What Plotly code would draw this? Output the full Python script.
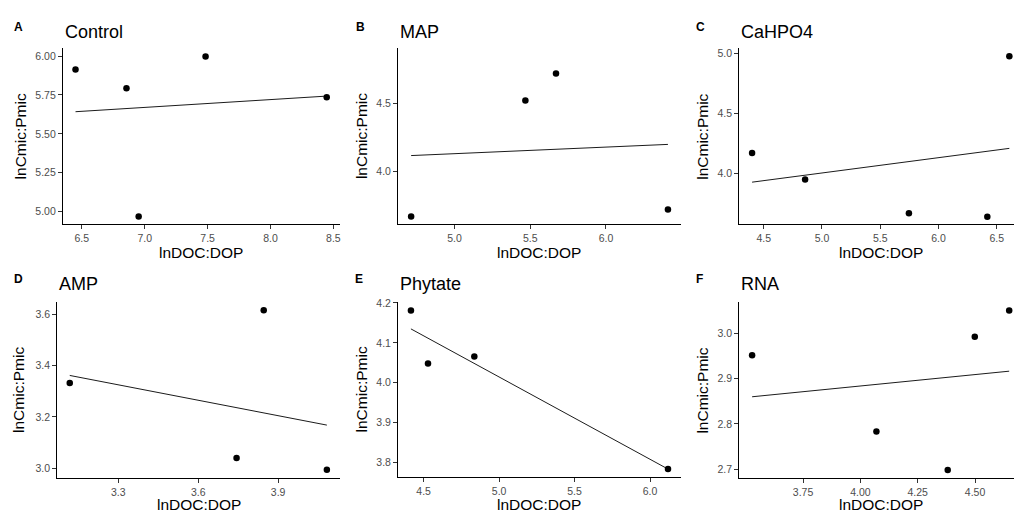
import numpy as np
import plotly.graph_objects as go

# ---------------- data ----------------
panel_titles = ["Control", "MAP", "CaHPO4", "AMP", "Phytate", "RNA"]
panel_tags = ["A", "B", "C", "D", "E", "F"]

control_x = [6.45, 6.855, 6.952, 7.484, 8.447]
control_y = [5.915, 5.794, 4.968, 5.998, 5.735]
map_x = [4.714, 5.468, 5.670, 6.409]
map_y = [3.671, 4.519, 4.717, 3.722]
cahpo4_x = [4.40, 4.855, 5.746, 6.419, 6.608]
cahpo4_y = [4.170, 3.950, 3.669, 3.639, 4.978]
amp_x = [3.118, 3.744, 3.846, 4.083]
amp_y = [3.332, 3.040, 3.615, 2.994]
phytate_x = [4.416, 4.529, 4.836, 6.119]
phytate_y = [4.181, 4.048, 4.066, 3.784]
rna_x = [3.528, 4.070, 4.381, 4.499, 4.649]
rna_y = [2.952, 2.783, 2.698, 2.993, 3.051]

xticks = [
    [6.5, 7.0, 7.5, 8.0, 8.5],
    [5.0, 5.5, 6.0],
    [4.5, 5.0, 5.5, 6.0, 6.5],
    [3.3, 3.6, 3.9],
    [4.5, 5.0, 5.5, 6.0],
    [3.75, 4.00, 4.25, 4.50],
]
yticks = [
    [5.00, 5.25, 5.50, 5.75, 6.00],
    [4.0, 4.5],
    [4.0, 4.5, 5.0],
    [3.0, 3.2, 3.4, 3.6],
    [3.8, 3.9, 4.0, 4.1, 4.2],
    [2.7, 2.8, 2.9, 3.0],
]
xfmt = [".1f", ".1f", ".1f", ".1f", ".1f", ".2f"]
yfmt = [".2f", ".1f", ".1f", ".1f", ".1f", ".1f"]

xs = [control_x, map_x, cahpo4_x, amp_x, phytate_x, rna_x]
ys = [control_y, map_y, cahpo4_y, amp_y, phytate_y, rna_y]

# ---------------- layout (pixels) ----------------
W, H = 1015, 512
# panel pixel boxes: x0, x1, ytop, ybottom
px_x = [(63, 340), (398.5, 681.5), (740, 1015), (57.3, 340), (398.5, 681.5), (740, 1015)]
px_y = [(43, 221), (43, 221), (43, 221), (300, 477.7), (300, 476.7), (300, 477.7)]
xranges = [[6.35, 8.55], [4.628, 6.494], [4.29, 6.648], [3.071, 4.131], [4.331, 6.204], [3.472, 4.670]]
yranges = [[4.9165, 6.0495], [3.613, 4.899], [3.575, 5.042], [2.962, 3.645], [3.764, 4.201], [2.680, 3.069]]
# full (uncropped) x centre for axis title
xtitle_cx = [201.5, 540, 881.5, 198.7, 540, 881.5]
ytitle_cx = [20, 362, 703, 18.7, 362, 703]
tag_x = [12, 354, 695, 12, 353, 695]

FONT = "Liberation Sans, Arial, sans-serif"

fig = go.Figure()
layout = dict(
    width=W, height=H, margin=dict(l=0, r=0, t=0, b=0),
    paper_bgcolor="white", plot_bgcolor="white", showlegend=False,
    font=dict(family=FONT, color="black"),
)
annotations = []

def px2x(p):
    return p / W

def px2y(p):
    return 1 - p / H

for i in range(6):
    n = "" if i == 0 else str(i + 1)
    xa, ya = "x" + n, "y" + n
    x0, x1 = px_x[i]
    yt, yb = px_y[i]
    common = dict(
        showline=True, linecolor="black", linewidth=1.1,
        ticks="outside", ticklen=4, tickwidth=1, tickcolor="#333333",
        showgrid=False, zeroline=False,
        tickfont=dict(family=FONT, size=10.5, color="#4D4D4D"),
    )
    layout["xaxis" + n] = dict(
        domain=[px2x(x0), px2x(x1)], anchor=ya, range=xranges[i],
        tickvals=xticks[i], tickformat=xfmt[i], **common,
    )
    layout["yaxis" + n] = dict(
        domain=[px2y(yb), px2y(yt)], anchor=xa, range=yranges[i],
        tickvals=yticks[i], tickformat=yfmt[i], **common,
    )
    x = np.array(xs[i])
    y = np.array(ys[i])
    slope, icpt = np.polyfit(x, y, 1)
    lx = np.array([x.min(), x.max()])
    fig.add_trace(go.Scatter(
        x=lx, y=slope * lx + icpt, mode="lines",
        line=dict(color="black", width=0.9), xaxis=xa, yaxis=ya,
        hoverinfo="skip",
    ))
    fig.add_trace(go.Scatter(
        x=x, y=y, mode="markers", marker=dict(color="black", size=6.5),
        xaxis=xa, yaxis=ya, cliponaxis=False,
    ))
    row_off = 0 if i < 3 else 255
    # panel title
    annotations.append(dict(
        text=panel_titles[i], x=px2x(x0), y=px2y(26.2 + row_off),
        xref="paper", yref="paper", xanchor="left", yanchor="middle",
        showarrow=False, font=dict(family=FONT, size=18, color="black"),
    ))
    # tag
    annotations.append(dict(
        text="<b>" + panel_tags[i] + "</b>", x=px2x(tag_x[i]), y=px2y(21.5 + row_off),
        xref="paper", yref="paper", xanchor="left", yanchor="middle",
        showarrow=False, font=dict(family=FONT, size=12, color="black"),
    ))
    # x axis title
    annotations.append(dict(
        text="lnDOC:DOP", x=px2x(xtitle_cx[i]), y=px2y(249 + row_off),
        xref="paper", yref="paper", xanchor="center", yanchor="middle",
        showarrow=False, font=dict(family=FONT, size=15.5, color="black"),
    ))
    # y axis title
    annotations.append(dict(
        text="lnCmic:Pmic", x=px2x(ytitle_cx[i]), y=px2y((yt + yb) / 2),
        xref="paper", yref="paper", xanchor="center", yanchor="middle",
        textangle=-90,
        showarrow=False, font=dict(family=FONT, size=15.5, color="black"),
    ))

layout["annotations"] = annotations
fig.update_layout(**layout)
fig.write_html(
    "out.html",
    config={"displayModeBar": False},
    post_script="document.body.style.margin='0';document.body.style.overflow='hidden';",
)
